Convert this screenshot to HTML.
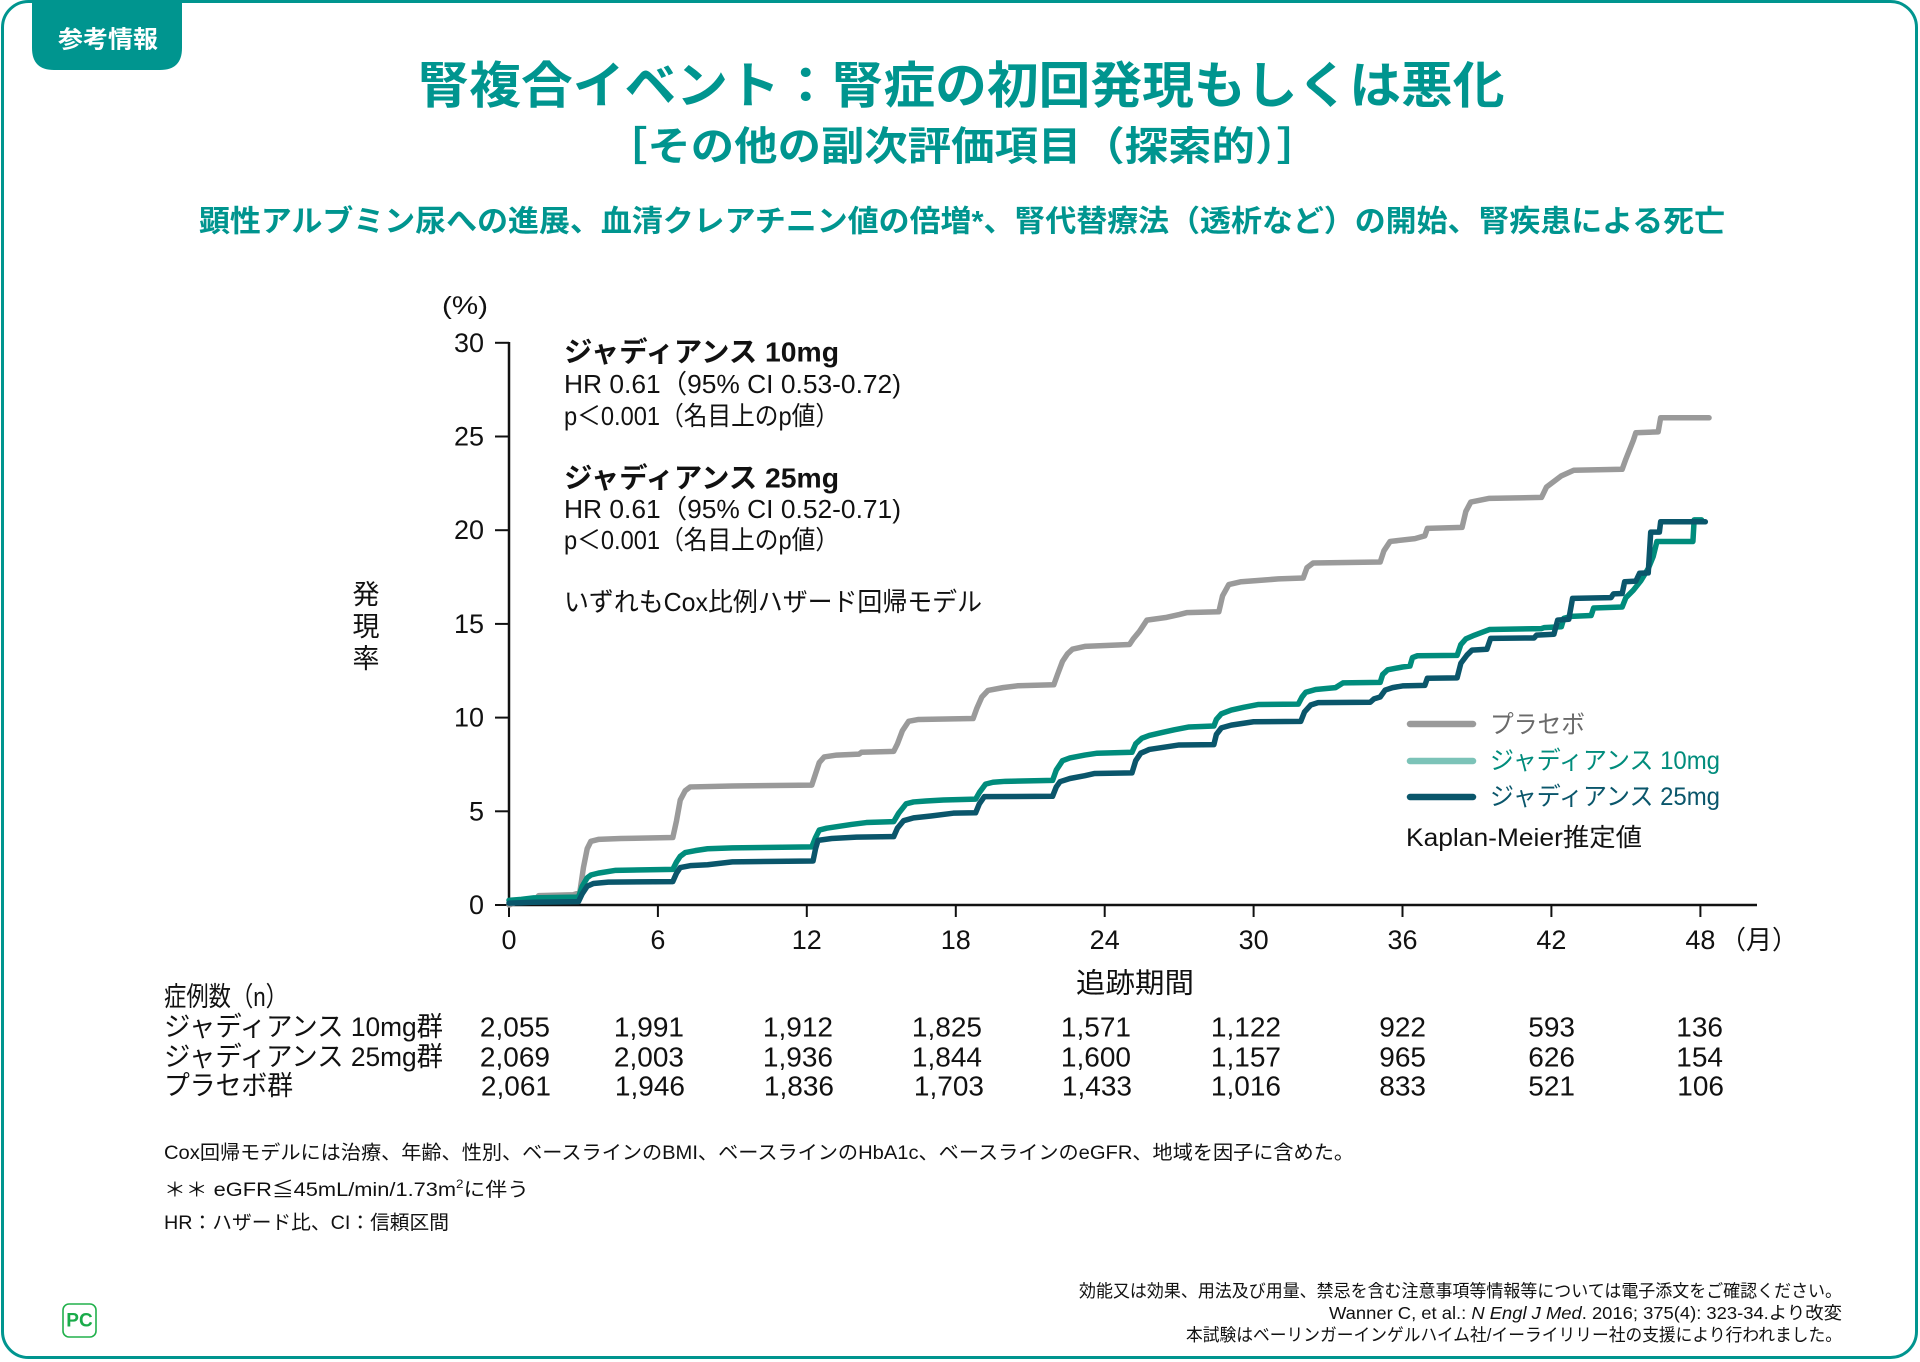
<!DOCTYPE html>
<html lang="ja">
<head>
<meta charset="utf-8">
<style>
  html,body{margin:0;padding:0;background:#fff;}
  body{width:1920px;height:1362px;overflow:hidden;}
  svg{display:block;}
  text{font-family:"Liberation Sans","Noto Sans CJK JP",sans-serif;}
</style>
</head>
<body>
<svg width="1920" height="1362" viewBox="0 0 1920 1362" xmlns="http://www.w3.org/2000/svg">
  <!-- outer border -->
  <rect x="2.5" y="1.5" width="1914" height="1356" rx="26" ry="26" fill="#fff" stroke="#00958f" stroke-width="3"/>
  <!-- tag -->
  <path d="M32 0 H182 V48 Q182 70 160 70 H54 Q32 70 32 48 Z" fill="#00958f"/>
  <text x="108" y="40" font-size="24" font-weight="700" fill="#fff" text-anchor="middle" dominant-baseline="central" textLength="100" lengthAdjust="spacingAndGlyphs">参考情報</text>

  <!-- titles -->
  <text x="961" y="86" font-size="50" font-weight="700" fill="#00958f" text-anchor="middle" dominant-baseline="central" textLength="1087" lengthAdjust="spacingAndGlyphs">腎複合イベント：腎症の初回発現もしくは悪化</text>
  <text x="962" y="147" font-size="40" font-weight="700" fill="#00958f" text-anchor="middle" dominant-baseline="central" textLength="716" lengthAdjust="spacingAndGlyphs">［その他の副次評価項目（探索的）］</text>
  <text x="962" y="222" font-size="30" font-weight="700" fill="#00958f" text-anchor="middle" dominant-baseline="central" textLength="1526" lengthAdjust="spacingAndGlyphs">顕性アルブミン尿への進展、血清クレアチニン値の倍増*、腎代替療法（透析など）の開始、腎疾患による死亡</text>

  <!-- y axis label -->
  <text x="465" y="306" font-size="25" fill="#111" text-anchor="middle" dominant-baseline="central" textLength="46" lengthAdjust="spacingAndGlyphs">(%)</text>
  <g font-size="27" fill="#111" text-anchor="middle" dominant-baseline="central">
    <text x="366" y="595">発</text>
    <text x="366" y="627">現</text>
    <text x="366" y="659">率</text>
  </g>

  <!-- axes -->
  <g stroke="#111" stroke-width="2.5" fill="none">
    <line x1="509" y1="342" x2="509" y2="906"/>
    <line x1="508" y1="905" x2="1757" y2="905"/>
  </g>
  <g stroke="#111" stroke-width="2">
    <line x1="495" y1="905" x2="509" y2="905"/>
    <line x1="495" y1="811.3" x2="509" y2="811.3"/>
    <line x1="495" y1="717.6" x2="509" y2="717.6"/>
    <line x1="495" y1="623.9" x2="509" y2="623.9"/>
    <line x1="495" y1="530.2" x2="509" y2="530.2"/>
    <line x1="495" y1="436.5" x2="509" y2="436.5"/>
    <line x1="495" y1="342.8" x2="509" y2="342.8"/>
    <line x1="509" y1="905" x2="509" y2="917"/>
    <line x1="657.9" y1="905" x2="657.9" y2="917"/>
    <line x1="806.8" y1="905" x2="806.8" y2="917"/>
    <line x1="955.8" y1="905" x2="955.8" y2="917"/>
    <line x1="1104.7" y1="905" x2="1104.7" y2="917"/>
    <line x1="1253.6" y1="905" x2="1253.6" y2="917"/>
    <line x1="1402.5" y1="905" x2="1402.5" y2="917"/>
    <line x1="1551.4" y1="905" x2="1551.4" y2="917"/>
    <line x1="1700.4" y1="905" x2="1700.4" y2="917"/>
  </g>
  <g font-size="27" fill="#111" text-anchor="end" dominant-baseline="central">
    <text x="484" y="905">0</text>
    <text x="484" y="811.3">5</text>
    <text x="484" y="717.6">10</text>
    <text x="484" y="623.9">15</text>
    <text x="484" y="530.2">20</text>
    <text x="484" y="436.5">25</text>
    <text x="484" y="342.8">30</text>
  </g>
  <g font-size="27" fill="#111" text-anchor="middle" dominant-baseline="central">
    <text x="509" y="940">0</text>
    <text x="657.9" y="940">6</text>
    <text x="806.8" y="940">12</text>
    <text x="955.8" y="940">18</text>
    <text x="1104.7" y="940">24</text>
    <text x="1253.6" y="940">30</text>
    <text x="1402.5" y="940">36</text>
    <text x="1551.4" y="940">42</text>
    <text x="1700.4" y="940">48</text>
  </g>
  <text x="1759" y="940" font-size="26" fill="#111" text-anchor="middle" dominant-baseline="central">（月）</text>
  <text x="1135" y="983" font-size="28" fill="#111" text-anchor="middle" dominant-baseline="central" textLength="118" lengthAdjust="spacingAndGlyphs">追跡期間</text>

  <!-- annotations -->
  <g fill="#111" dominant-baseline="central">
    <text x="564" y="352" font-size="28" font-weight="700" textLength="275" lengthAdjust="spacingAndGlyphs">ジャディアンス 10mg</text>
    <text x="564" y="384" font-size="26" textLength="337" lengthAdjust="spacingAndGlyphs">HR 0.61（95% CI 0.53-0.72)</text>
    <text x="564" y="416" font-size="26" textLength="275" lengthAdjust="spacingAndGlyphs">p＜0.001（名目上のp値）</text>
    <text x="564" y="478" font-size="28" font-weight="700" textLength="275" lengthAdjust="spacingAndGlyphs">ジャディアンス 25mg</text>
    <text x="564" y="509" font-size="26" textLength="337" lengthAdjust="spacingAndGlyphs">HR 0.61（95% CI 0.52-0.71)</text>
    <text x="564" y="540" font-size="26" textLength="275" lengthAdjust="spacingAndGlyphs">p＜0.001（名目上のp値）</text>
    <text x="564" y="602" font-size="26" textLength="418" lengthAdjust="spacingAndGlyphs">いずれもCox比例ハザード回帰モデル</text>
  </g>

  <!-- curves -->
  <g transform="translate(509 905) scale(24.82 -18.74)" fill="none" stroke-linejoin="round" stroke-linecap="round">
    <polyline vector-effect="non-scaling-stroke" stroke="#9a9a9a" stroke-width="5.5" points="0,0 0.3,0.15 0.6,0.3 1.1,0.35 1.2,0.5 2.6,0.55 2.85,0.65 3.0,2.0 3.15,3.0 3.3,3.4 3.6,3.5 4.5,3.55 6.6,3.6 6.75,4.5 6.9,5.6 7.1,6.1 7.3,6.3 9,6.35 12.2,6.4 12.35,7.0 12.5,7.6 12.7,7.9 13.2,8.0 14.1,8.05 14.2,8.15 15.5,8.2 15.65,8.6 15.85,9.3 16.1,9.8 16.5,9.9 18.7,9.95 18.85,10.5 19.05,11.1 19.3,11.45 19.9,11.6 20.5,11.7 21.95,11.75 22.1,12.3 22.3,13.0 22.5,13.4 22.7,13.65 23.2,13.8 25.0,13.9 25.15,14.2 25.4,14.6 25.7,15.2 26.5,15.35 27.0,15.5 27.3,15.6 28.6,15.65 28.75,16.5 29.0,17.1 29.5,17.25 30.5,17.35 31.0,17.4 32.0,17.45 32.15,18.0 32.4,18.25 35.1,18.3 35.25,18.9 35.5,19.4 36.5,19.55 36.9,19.7 37.0,20.1 38.4,20.15 38.55,21.0 38.75,21.5 39.5,21.7 41.6,21.75 41.8,22.3 42.0,22.5 42.4,22.9 42.9,23.2 44.85,23.25 45.0,23.8 45.3,24.8 45.4,25.2 46.3,25.25 46.4,26.0 48.35,26.0"/>
    <polyline vector-effect="non-scaling-stroke" stroke="#008c7c" stroke-width="5.5" points="0,0.25 0.5,0.3 1.0,0.38 2.8,0.42 2.95,1.0 3.15,1.45 3.3,1.6 3.6,1.7 4.3,1.85 6.6,1.9 6.75,2.3 6.9,2.6 7.1,2.8 7.5,2.9 8.0,3.0 9.0,3.05 12.2,3.1 12.35,3.6 12.5,4.0 12.8,4.1 13.3,4.2 13.8,4.3 14.4,4.4 15.5,4.45 15.7,4.9 16.0,5.4 16.3,5.5 16.8,5.55 17.5,5.6 18.8,5.65 18.95,6.0 19.2,6.45 19.5,6.55 20,6.6 21.9,6.65 22.05,7.2 22.3,7.7 22.6,7.85 23.2,8.0 23.7,8.1 25.1,8.15 25.25,8.6 25.5,8.9 25.8,9.05 26.3,9.2 26.8,9.35 27.4,9.5 28.4,9.55 28.5,9.9 28.7,10.2 29.1,10.4 29.6,10.55 30.2,10.7 31.8,10.72 31.95,11.1 32.1,11.35 32.5,11.5 33.3,11.6 33.6,11.85 35.1,11.88 35.2,12.3 35.4,12.55 36.0,12.7 36.3,12.75 36.4,13.2 36.6,13.3 38.2,13.32 38.35,13.9 38.55,14.2 38.9,14.4 39.5,14.7 41.6,14.75 41.7,14.8 42.4,14.85 42.5,15.3 42.8,15.4 43.6,15.45 43.7,15.85 44.85,15.9 45.0,16.4 45.3,16.8 45.6,17.3 45.9,17.95 46.1,18.6 46.25,19.4 47.7,19.4 47.75,20.55 48.05,20.55"/>
    <polyline vector-effect="non-scaling-stroke" stroke="#0a566b" stroke-width="5.5" points="0,0.1 0.5,0.12 1.0,0.15 2.8,0.18 2.95,0.6 3.15,1.0 3.4,1.15 4.0,1.22 6.6,1.25 6.75,1.7 6.9,2.0 7.3,2.1 8.0,2.15 9.0,2.3 12.25,2.35 12.35,3.0 12.45,3.45 13.0,3.55 14.0,3.62 15.5,3.65 15.65,4.1 15.9,4.5 16.3,4.65 17.0,4.75 17.9,4.9 18.8,4.92 18.95,5.4 19.15,5.78 21.9,5.8 22.05,6.3 22.2,6.58 22.6,6.75 23.2,6.9 23.6,7.02 25.1,7.05 25.25,7.7 25.45,8.1 25.8,8.3 26.3,8.4 27.0,8.54 28.4,8.56 28.5,9.1 28.7,9.45 29.1,9.6 29.6,9.7 30.0,9.78 31.9,9.8 32.05,10.3 32.3,10.67 32.6,10.8 34.7,10.82 34.85,11.0 35.1,11.1 35.3,11.47 35.6,11.6 36.0,11.69 36.9,11.72 37.0,12.1 38.2,12.12 38.35,12.9 38.6,13.34 38.8,13.6 39.4,13.65 39.55,14.23 41.3,14.25 41.4,14.4 42.1,14.45 42.25,15.2 42.7,15.25 42.85,16.36 44.4,16.4 44.5,16.6 44.85,16.62 44.95,17.25 45.4,17.28 45.55,17.7 45.9,17.72 46.0,19.9 46.35,19.9 46.4,20.45 48.2,20.45"/>
  </g>

  <!-- legend -->
  <g stroke-width="6.5" stroke-linecap="round">
    <line x1="1410" y1="724" x2="1473" y2="724" stroke="#9a9a9a"/>
    <line x1="1410" y1="761" x2="1473" y2="761" stroke="#7cc3b8"/>
    <line x1="1410" y1="797" x2="1473" y2="797" stroke="#0a566b"/>
  </g>
  <g font-size="25" dominant-baseline="central">
    <text x="1490" y="725" fill="#6a6a6a" textLength="95" lengthAdjust="spacingAndGlyphs">プラセボ</text>
    <text x="1490" y="761" fill="#008c7c" textLength="230" lengthAdjust="spacingAndGlyphs">ジャディアンス 10mg</text>
    <text x="1490" y="797" fill="#0a566b" textLength="230" lengthAdjust="spacingAndGlyphs">ジャディアンス 25mg</text>
    <text x="1406" y="838" fill="#111" textLength="236" lengthAdjust="spacingAndGlyphs">Kaplan-Meier推定値</text>
  </g>

  <!-- number at risk table -->
  <g font-size="27" fill="#111" dominant-baseline="central">
    <text x="164" y="997" textLength="124" lengthAdjust="spacingAndGlyphs">症例数（n）</text>
    <text x="164" y="1027" textLength="279" lengthAdjust="spacingAndGlyphs">ジャディアンス 10mg群</text>
    <text x="164" y="1057" textLength="279" lengthAdjust="spacingAndGlyphs">ジャディアンス 25mg群</text>
    <text x="164" y="1086" textLength="129" lengthAdjust="spacingAndGlyphs">プラセボ群</text>
  </g>
  <g font-size="28" fill="#111" text-anchor="end" dominant-baseline="central">
    <text x="550" y="1027">2,055</text>
    <text x="684" y="1027">1,991</text>
    <text x="833" y="1027">1,912</text>
    <text x="982" y="1027">1,825</text>
    <text x="1131" y="1027">1,571</text>
    <text x="1281" y="1027">1,122</text>
    <text x="1426" y="1027">922</text>
    <text x="1575" y="1027">593</text>
    <text x="1723" y="1027">136</text>

    <text x="550" y="1057">2,069</text>
    <text x="684" y="1057">2,003</text>
    <text x="833" y="1057">1,936</text>
    <text x="982" y="1057">1,844</text>
    <text x="1131" y="1057">1,600</text>
    <text x="1281" y="1057">1,157</text>
    <text x="1426" y="1057">965</text>
    <text x="1575" y="1057">626</text>
    <text x="1723" y="1057">154</text>

    <text x="551" y="1086">2,061</text>
    <text x="685" y="1086">1,946</text>
    <text x="834" y="1086">1,836</text>
    <text x="984" y="1086">1,703</text>
    <text x="1132" y="1086">1,433</text>
    <text x="1281" y="1086">1,016</text>
    <text x="1426" y="1086">833</text>
    <text x="1575" y="1086">521</text>
    <text x="1724" y="1086">106</text>
  </g>

  <!-- footnotes -->
  <g font-size="19.5" fill="#111" dominant-baseline="central">
    <text x="164" y="1153" textLength="1190" lengthAdjust="spacingAndGlyphs">Cox回帰モデルには治療、年齢、性別、ベースラインのBMI、ベースラインのHbA1c、ベースラインのeGFR、地域を因子に含めた。</text>
    <text x="164" y="1190" textLength="365" lengthAdjust="spacingAndGlyphs">＊＊ eGFR≦45mL/min/1.73m<tspan font-size="12" dy="-6">2</tspan><tspan dy="6">に伴う</tspan></text>
    <text x="164" y="1223" textLength="285" lengthAdjust="spacingAndGlyphs">HR：ハザード比、CI：信頼区間</text>
  </g>

  <!-- bottom right -->
  <g font-size="17.5" fill="#111" text-anchor="end" dominant-baseline="central">
    <text x="1842" y="1291" textLength="763" lengthAdjust="spacingAndGlyphs">効能又は効果、用法及び用量、禁忌を含む注意事項等情報等については電子添文をご確認ください。</text>
    <text x="1842" y="1313" textLength="513" lengthAdjust="spacingAndGlyphs">Wanner C, et al.: <tspan font-style="italic">N Engl J Med</tspan>. 2016; 375(4): 323-34.より改変</text>
    <text x="1842" y="1335" textLength="656" lengthAdjust="spacingAndGlyphs">本試験はベーリンガーインゲルハイム社/イーライリリー社の支援により行われました。</text>
  </g>

  <!-- logo -->
  <rect x="63" y="1304" width="33" height="33" rx="6" ry="6" fill="#fff" stroke="#22b14c" stroke-width="1.6"/>
  <text x="79.5" y="1321" font-size="19" font-weight="700" fill="#1aab4a" text-anchor="middle" dominant-baseline="central">PC</text>
</svg>
</body>
</html>
